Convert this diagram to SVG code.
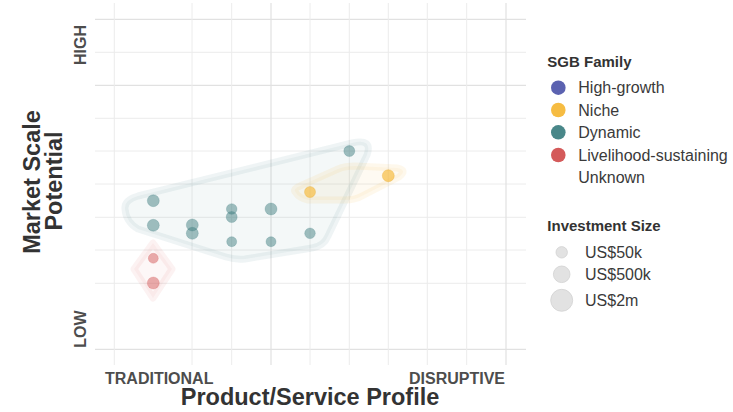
<svg xmlns="http://www.w3.org/2000/svg" width="733" height="412" viewBox="0 0 733 412">
<style>
.g{stroke:#ececec;stroke-width:1;fill:none}
.gd{stroke:#e1e1e1;stroke-width:1.2;fill:none}
.ax{font-family:"Liberation Sans",Arial,sans-serif;font-weight:bold;font-size:16px;fill:#4d4d4d}
.ti{font-family:"Liberation Sans",Arial,sans-serif;font-weight:bold;font-size:23.5px;fill:#333}
.lt{font-family:"Liberation Sans",Arial,sans-serif;font-weight:bold;font-size:15px;fill:#333}
.li{font-family:"Liberation Sans",Arial,sans-serif;font-size:16px;fill:#3a3a3a}
.pd{fill:#3d7b7e;fill-opacity:0.48;stroke:#3d7b7e;stroke-opacity:0.22;stroke-width:1}
.pn{fill:#f6bc42;fill-opacity:0.7;stroke:#e9a92a;stroke-opacity:0.3;stroke-width:1}
.pl{fill:#d45a5a;fill-opacity:0.5;stroke:#d45a5a;stroke-opacity:0.22;stroke-width:1}
.hd{fill:#4a8a8c;fill-opacity:0.06;stroke:#4a8a8c;stroke-opacity:0.09;stroke-width:7;stroke-linejoin:round}
.hn{fill:#f6bc42;fill-opacity:0.07;stroke:#f6bc42;stroke-opacity:0.1;stroke-width:7;stroke-linejoin:round}
.hl{fill:#d45a5a;fill-opacity:0.05;stroke:#d45a5a;stroke-opacity:0.08;stroke-width:7;stroke-linejoin:round}
.sz{fill:#e2e2e2;stroke:#d2d2d2;stroke-width:0.8}
</style>
<rect width="733" height="412" fill="#ffffff"/>
<g id="grid">
<line class="gd" x1="95" y1="19.3" x2="526" y2="19.3"/>
<line class="g" x1="95" y1="52.3" x2="526" y2="52.3"/>
<line class="gd" x1="95" y1="85.3" x2="526" y2="85.3"/>
<line class="g" x1="95" y1="118.3" x2="526" y2="118.3"/>
<line class="g" x1="95" y1="151" x2="526" y2="151"/>
<line class="g" x1="95" y1="184" x2="526" y2="184"/>
<line class="g" x1="95" y1="217.3" x2="526" y2="217.3"/>
<line class="g" x1="95" y1="250" x2="526" y2="250"/>
<line class="g" x1="95" y1="283.3" x2="526" y2="283.3"/>
<line class="gd" x1="95" y1="349.3" x2="526" y2="349.3"/>
<line class="g" x1="114.3" y1="3" x2="114.3" y2="365"/>
<line class="g" x1="192" y1="3" x2="192" y2="365"/>
<line class="g" x1="231.7" y1="3" x2="231.7" y2="365"/>
<line class="gd" x1="271" y1="3" x2="271" y2="365"/>
<line class="g" x1="310" y1="3" x2="310" y2="365"/>
<line class="g" x1="349.3" y1="3" x2="349.3" y2="365"/>
<line class="g" x1="388.3" y1="3" x2="388.3" y2="365"/>
<line class="g" x1="427.3" y1="3" x2="427.3" y2="365"/>
<line class="g" x1="466.7" y1="3" x2="466.7" y2="365"/>
<line class="gd" x1="506" y1="3" x2="506" y2="365"/>
</g>
<g id="hulls">
<path class="hd" d="M 125,209 Q 124,200 138,196 L 352,143 Q 373,138 367,155 L 328,236 Q 324,246 312,248 L 245,259 Q 236,260 226,257 L 138,229 Q 126,222 125,209 Z"/>
<path class="hn" d="M 296,193 Q 292,189 300,186 L 338,169 Q 345,166 355,166 L 397,168 Q 408,170 399,177 L 362,196 Q 355,200 345,200 L 308,200 Q 299,198 296,193 Z"/>
<path class="hl" d="M 153,243 L 134,269 L 153,298 L 172,269 Z"/>
</g>
<g id="dynamic">
<circle class="pd" cx="153.3" cy="200.7" r="6"/>
<circle class="pd" cx="153.3" cy="225.3" r="6"/>
<circle class="pd" cx="192.3" cy="225" r="6"/>
<circle class="pd" cx="192.3" cy="233.3" r="6"/>
<circle class="pd" cx="231.7" cy="209" r="5.3"/>
<circle class="pd" cx="231.7" cy="217" r="5.5"/>
<circle class="pd" cx="231.7" cy="241.7" r="5"/>
<circle class="pd" cx="271" cy="209" r="6"/>
<circle class="pd" cx="271" cy="241.7" r="5"/>
<circle class="pd" cx="310" cy="233.3" r="5.3"/>
<circle class="pd" cx="349.3" cy="151" r="5.5"/>
</g>
<g id="niche">
<circle class="pn" cx="310" cy="192" r="5.5"/>
<circle class="pn" cx="388.3" cy="175.7" r="6"/>
</g>
<g id="livelihood">
<circle class="pl" cx="153.3" cy="258.3" r="5"/>
<circle class="pl" cx="153.3" cy="283" r="6"/>
</g>
<g id="axes">
<text class="ax" transform="translate(86,45) rotate(-90)" text-anchor="middle">HIGH</text>
<text class="ax" transform="translate(86,329) rotate(-90)" text-anchor="middle">LOW</text>
<text class="ax" x="105" y="384">TRADITIONAL</text>
<text class="ax" x="505" y="384" text-anchor="end">DISRUPTIVE</text>
<text class="ti" x="310" y="404.5" text-anchor="middle">Product/Service Profile</text>
<text class="ti" transform="translate(40,182) rotate(-90)" text-anchor="middle">Market Scale</text>
<text class="ti" transform="translate(62,181) rotate(-90)" text-anchor="middle">Potential</text>
</g>
<g id="legend-family">
<text class="lt" x="547.3" y="66.7">SGB Family</text>
<circle cx="558.3" cy="87.7" r="7.3" fill="#5b62b0"/>
<circle cx="558.3" cy="110" r="7.3" fill="#f6bc42"/>
<circle cx="558.3" cy="132.3" r="7.3" fill="#498789"/>
<circle cx="558.3" cy="155" r="7.3" fill="#d45a5a"/>
<text class="li" x="578.3" y="93.3">High-growth</text>
<text class="li" x="578.3" y="115.5">Niche</text>
<text class="li" x="578.3" y="138">Dynamic</text>
<text class="li" x="578.3" y="160.5">Livelihood-sustaining</text>
<text class="li" x="578.3" y="183">Unknown</text>
</g>
<g id="legend-size">
<text class="lt" x="547.3" y="230.5">Investment Size</text>
<circle class="sz" cx="561.7" cy="252.3" r="5.7"/>
<circle class="sz" cx="561.7" cy="274.3" r="8.3"/>
<circle class="sz" cx="561.7" cy="300.3" r="11"/>
<text class="li" x="585" y="257.5">US$50k</text>
<text class="li" x="585" y="280">US$500k</text>
<text class="li" x="585" y="306">US$2m</text>
</g>
</svg>
